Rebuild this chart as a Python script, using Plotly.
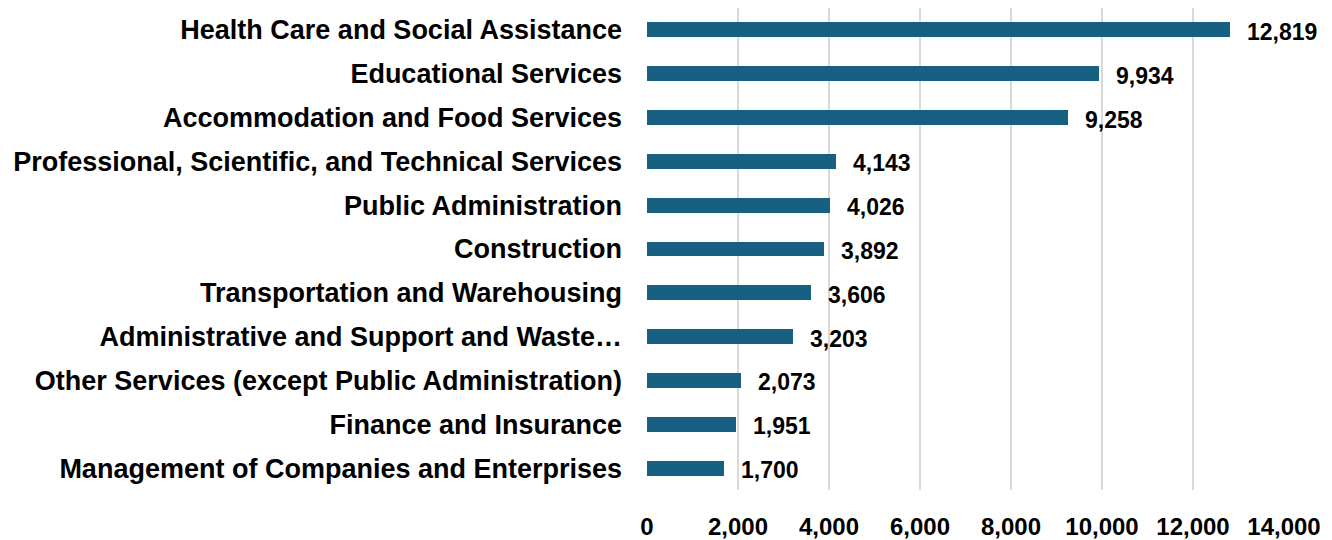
import plotly.graph_objects as go

categories = [
    "Health Care and Social Assistance",
    "Educational Services",
    "Accommodation and Food Services",
    "Professional, Scientific, and Technical Services",
    "Public Administration",
    "Construction",
    "Transportation and Warehousing",
    "Administrative and Support and Waste…",
    "Other Services (except Public Administration)",
    "Finance and Insurance",
    "Management of Companies and Enterprises",
]
values = [12819, 9934, 9258, 4143, 4026, 3892, 3606, 3203, 2073, 1951, 1700]
tick_vals = [0, 2000, 4000, 6000, 8000, 10000, 12000, 14000]
tick_text = ["0", "2,000", "4,000", "6,000", "8,000", "10,000", "12,000", "14,000"]

FONT = "Liberation Sans, Arial, sans-serif"

fig = go.Figure()
fig.add_trace(go.Bar(
    y=categories, x=values, orientation="h",
    marker=dict(color="#186081", line=dict(width=0)),
    width=0.34,
    hoverinfo="skip",
))

for c, v in zip(categories, values):
    fig.add_annotation(
        x=v, y=c, xref="x", yref="y", text=f"{v:,}",
        showarrow=False, xanchor="left", yanchor="middle", xshift=15, yshift=-2,
        font=dict(family=FONT, size=23, color="#000000", weight="bold"),
    )

fig.update_layout(
    width=1324, height=532,
    margin=dict(l=639, r=48, t=0, b=48),
    paper_bgcolor="white", plot_bgcolor="white",
    showlegend=False,
    bargap=0,
)
fig.update_xaxes(
    range=[0, 14000], tickvals=tick_vals, ticktext=tick_text,
    showgrid=True, gridcolor="#d9d9d9", gridwidth=2,
    zeroline=False, showline=False,
    ticks="", ticklabelstandoff=20,
    tickfont=dict(family=FONT, size=24, color="#000000", weight="bold"),
)
fig.update_yaxes(
    autorange="reversed", categoryorder="array", categoryarray=categories,
    showgrid=False, zeroline=False, showline=False, ticks="",
    ticklabelstandoff=24,
    tickfont=dict(family=FONT, size=27, color="#000000", weight="bold"),
)

fig.write_html("out.html")
